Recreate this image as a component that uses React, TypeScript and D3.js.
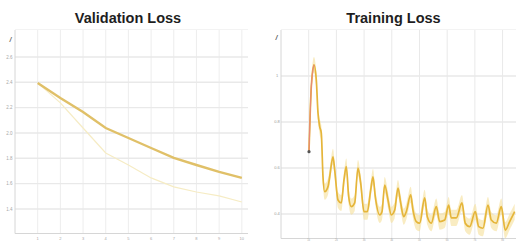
import React from "react";
import * as d3 from "d3";

// ---------- Validation Loss ----------
const valEpochs = [1, 2, 3, 4, 5, 6, 7, 8, 9, 10];
const valLossMain = [2.395, 2.276, 2.166, 2.039, 1.96, 1.881, 1.803, 1.747, 1.692, 1.645];
const valLossAlt = [2.395, 2.237, 2.039, 1.842, 1.747, 1.645, 1.574, 1.534, 1.503, 1.455];
const valYTicks = [1.4, 1.6, 1.8, 2.0, 2.2, 2.4, 2.6];
const valXTicks = [1, 2, 3, 4, 5, 6, 7, 8, 9, 10];

// ---------- Training Loss ----------
const trainSteps = [
  1011, 1094, 1191, 1274, 1336, 1397, 1455, 1516, 1578, 1697, 1758, 1877, 1939, 2058, 2177,
  2274, 2357, 2444, 2538, 2661, 2780, 2877, 2996, 3116, 3238, 3321, 3404, 3563, 3646, 3744,
  3863, 3982, 4105, 4224, 4321, 4430, 4523, 4682, 4765, 4884, 5007, 5188, 5282, 5426, 5606,
  5729, 5910, 6054, 6148, 6329, 6534, 6653, 6812, 7014, 7137, 7292, 7473, 7592, 7773, 7953,
  8097, 8256, 8437,
];
const trainLoss = [
  0.671, 0.953, 1.048, 0.983, 0.839, 0.78, 0.752, 0.562, 0.497, 0.519, 0.562, 0.649, 0.591, 0.461, 0.448,
  0.548, 0.606, 0.475, 0.432, 0.448, 0.6, 0.535, 0.41, 0.41, 0.504, 0.562, 0.475, 0.396, 0.41, 0.526,
  0.461, 0.396, 0.417, 0.513, 0.448, 0.388, 0.41, 0.483, 0.417, 0.367, 0.36, 0.47, 0.388, 0.36, 0.432,
  0.367, 0.374, 0.439, 0.383, 0.383, 0.448, 0.36, 0.345, 0.41, 0.345, 0.338, 0.439, 0.374, 0.36, 0.432,
  0.33, 0.367, 0.41,
];
const trainYTicks = [0.4, 0.6, 0.8, 1.0];
const trainXTicks = [1000, 2000, 3000, 4000, 5000, 6000, 7000, 8000];

const W = 516;
const H = 242;
const GRID = "#e9e9e9";
const AXIS = "#d6d6d6";
const LABEL = "#a8a8a8";

export default function App() {
  // left panel scales
  const xL = d3.scaleLinear().domain([0, 10.25]).range([15, 247.5]);
  const yL = d3.scaleLinear().domain([1.2, 2.8]).range([234.3, 31.6]);
  // right panel scales
  const xR = d3.scaleLinear().domain([0, 8600]).range([281, 519.2]);
  const yR = d3.scaleLinear().domain([0.3, 1.2]).range([237, 30]);

  const valMain = valEpochs.map((e, i) => [e, valLossMain[i]] as [number, number]);
  const valAlt = valEpochs.map((e, i) => [e, valLossAlt[i]] as [number, number]);
  const lineL = d3
    .line<[number, number]>()
    .x((d) => xL(d[0]))
    .y((d) => yL(d[1]));

  const train = trainSteps.map((s, i) => [s, trainLoss[i]] as [number, number]);
  const lineR = d3
    .line<[number, number]>()
    .x((d) => xR(d[0]))
    .y((d) => yR(d[1]))
    .curve(d3.curveMonotoneX);
  const bandR = d3
    .area<[number, number]>()
    .x((d) => xR(d[0]))
    .y0((d) => yR(d[1] - 0.035))
    .y1((d) => yR(d[1] + 0.035))
    .curve(d3.curveMonotoneX);
  const peakIdx = trainLoss.indexOf(d3.max(trainLoss) as number);
  const rising = train.slice(0, peakIdx + 1);

  const font = "'Liberation Sans', Arial, sans-serif";

  return (
    <svg
      width={W}
      height={H}
      style={{ position: "absolute", left: 0, top: 0, background: "#fff" }}
      fontFamily={font}
    >
      {/* titles */}
      <text x={128} y={23} textAnchor="middle" fontSize={14.5} fontWeight="bold" fill="#1e1e1e">
        Validation Loss
      </text>
      <text x={393.5} y={23} textAnchor="middle" fontSize={14.5} fontWeight="bold" fill="#1e1e1e">
        Training Loss
      </text>

      {/* ---------- left panel ---------- */}
      <g>
        <line x1={15} x2={248} y1={29.5} y2={29.5} stroke="#f3f3f3" />
        {valXTicks.map((t) => (
          <line key={"vx" + t} x1={xL(t)} x2={xL(t)} y1={30} y2={233} stroke={GRID} strokeWidth={0.8} />
        ))}
        {valYTicks.map((t) => (
          <line key={"vy" + t} x1={15} x2={248} y1={yL(t)} y2={yL(t)} stroke={GRID} strokeWidth={1.4} />
        ))}
        <line x1={15} x2={15} y1={30} y2={233.5} stroke={AXIS} strokeWidth={1} />
        <line x1={15} x2={248} y1={233.5} y2={233.5} stroke={AXIS} strokeWidth={1} />
        {valYTicks.map((t) => (
          <text key={"vyl" + t} x={9.5} y={yL(t)} dy="0.35em" textAnchor="middle" fontSize={4.5} fill={LABEL}>
            {t.toFixed(1)}
          </text>
        ))}
        {valXTicks.map((t) => (
          <text key={"vxl" + t} x={xL(t)} y={237} dominantBaseline="hanging" textAnchor="middle" fontSize={4} fill={LABEL}>
            {t}
          </text>
        ))}
        <text x={10.5} y={42} textAnchor="middle" fontSize={7} fontStyle="italic" fontWeight="bold" fill="#666">
          /
        </text>
        <path d={lineL(valAlt) || ""} fill="none" stroke="#f6ecc4" strokeWidth={1.2} />
        <path d={lineL(valMain) || ""} fill="none" stroke="#e0c068" strokeWidth={2.4} />
      </g>

      {/* ---------- right panel ---------- */}
      <g>
        <line x1={281} x2={516} y1={29.5} y2={29.5} stroke="#f3f3f3" />
        {trainXTicks.map((t) => (
          <line key={"tx" + t} x1={xR(t)} x2={xR(t)} y1={30} y2={238} stroke={GRID} strokeWidth={1} />
        ))}
        {trainYTicks.map((t) => (
          <line key={"ty" + t} x1={281} x2={516} y1={yR(t)} y2={yR(t)} stroke={GRID} strokeWidth={1.4} />
        ))}
        <line x1={281} x2={281} y1={30} y2={238.5} stroke={AXIS} strokeWidth={1} />
        <line x1={281} x2={516} y1={238.5} y2={238.5} stroke={AXIS} strokeWidth={1} />
        {trainYTicks.map((t) => (
          <text key={"tyl" + t} x={277} y={yR(t)} dy="0.35em" textAnchor="middle" fontSize={4} fill="#9a9a9a">
            {t === 1 ? "1" : t.toFixed(1)}
          </text>
        ))}
        {trainXTicks.map((t) => (
          <text key={"txl" + t} x={xR(t)} y={239} dominantBaseline="hanging" textAnchor="middle" fontSize={2.6} fill={LABEL}>
            {t / 1000 + "k"}
          </text>
        ))}
        <text x={276.5} y={40} textAnchor="middle" fontSize={7} fontStyle="italic" fontWeight="bold" fill="#555">
          /
        </text>
        <path d={bandR(train) || ""} fill="#f5df9a" opacity={0.6} />
        <path d={lineR(train) || ""} fill="none" stroke="#e5b53a" strokeWidth={1.7} />
        <path d={lineR(rising) || ""} fill="none" stroke="#e88a74" strokeWidth={1.2} />
        <circle cx={xR(train[0][0])} cy={yR(train[0][1])} r={1.6} fill="#555" />
      </g>
    </svg>
  );
}
